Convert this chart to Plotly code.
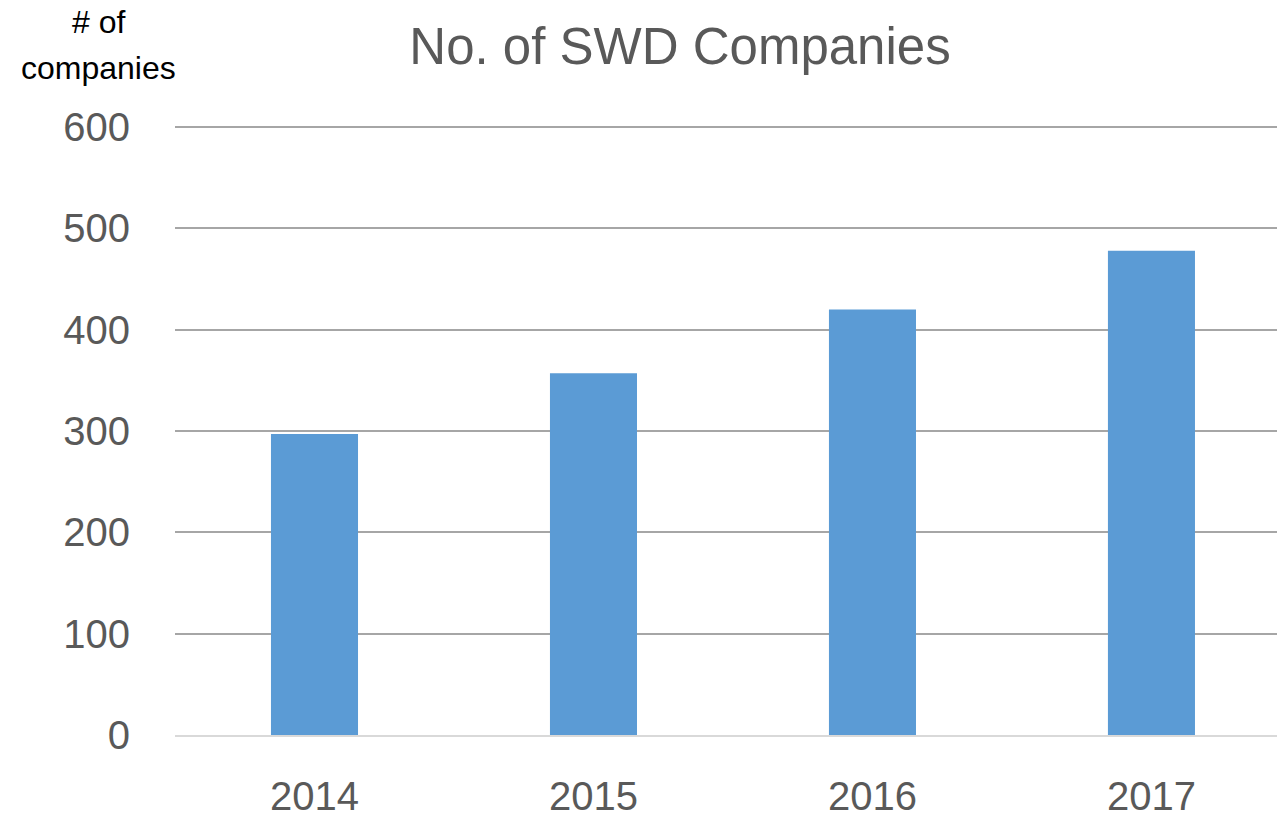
import plotly.graph_objects as go

years = ["2014", "2015", "2016", "2017"]
companies = [297, 357, 420, 478]
y_ticks = [0, 100, 200, 300, 400, 500, 600]

text_grey = "#595959"
font_family = "Liberation Sans, Arial, sans-serif"

# plot area in pixels, used to place the free-floating labels
plot_left, plot_top, plot_bottom, plot_w = 175, 126, 735, 1102
plot_h = plot_bottom - plot_top


def paper_x(px):
    return (px - plot_left) / plot_w


def paper_y(px):
    return (plot_bottom - px) / plot_h


fig = go.Figure(
    go.Bar(
        x=years,
        y=companies,
        marker_color="#5B9BD5",
        marker_line_width=0,
    )
)

fig.update_layout(
    width=1277,
    height=819,
    margin=dict(l=plot_left, r=0, t=plot_top, b=819 - plot_bottom),
    plot_bgcolor="white",
    paper_bgcolor="white",
    bargap=0.688,
    showlegend=False,
    font=dict(family=font_family, color=text_grey),
    title=dict(
        text="No. of SWD Companies",
        x=680 / 1277,
        xanchor="center",
        y=1 - 46 / 819,
        yanchor="middle",
        font=dict(size=51, color=text_grey, family=font_family),
    ),
)

fig.update_yaxes(
    range=[0, 601],
    tickvals=y_ticks,
    gridcolor="#A6A6A6",
    gridwidth=1.5,
    zeroline=False,
    showline=False,
    automargin=False,
    tickfont=dict(size=40, color=text_grey),
    ticklabelstandoff=44,
)

# the original chart runs a little past the right edge of the picture
fig.update_xaxes(
    range=[-0.5, 3.45],
    showline=True,
    linecolor="#D9D9D9",
    linewidth=2,
    showgrid=False,
    automargin=False,
    tickfont=dict(size=40, color=text_grey),
    ticklabelstandoff=25,
)

for label, y_px in [("# of", 22), ("companies", 68)]:
    fig.add_annotation(
        text=label,
        xref="paper",
        yref="paper",
        x=paper_x(98),
        y=paper_y(y_px),
        xanchor="center",
        yanchor="middle",
        showarrow=False,
        font=dict(size=32, color="black", family=font_family),
    )

# drop the browser's default body margin so the figure sits at the page corner
fig.write_html(
    "out.html",
    config={"displayModeBar": False},
    post_script="document.body.style.margin='0';",
)
